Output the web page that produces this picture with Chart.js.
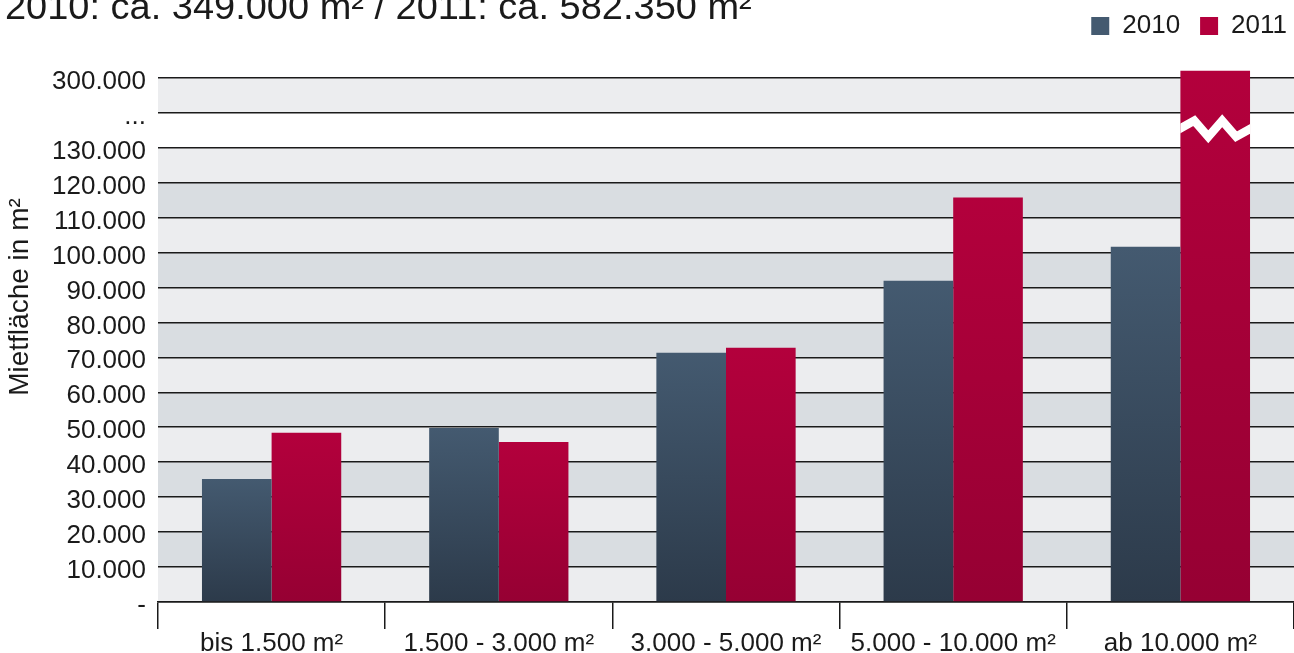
<!DOCTYPE html>
<html lang="de">
<head>
<meta charset="utf-8">
<title>Mietfläche nach Flächenklassen 2010 / 2011</title>
<script src="https://cdn.jsdelivr.net/npm/chart.js@4.4.1/dist/chart.umd.min.js"></script>
<style>
  html, body { margin: 0; padding: 0; background: #fff; }
  #wrap { position: relative; width: 1294px; height: 653px; }
</style>
</head>
<body>
<div id="wrap"><canvas id="chart"></canvas></div>
<script>
// Flächenklassen auf der x-Achse
const categories = ['bis 1.500 m²', '1.500 - 3.000 m²', '3.000 - 5.000 m²', '5.000 - 10.000 m²', 'ab 10.000 m²']

// Mietfläche in m²
const seriesNames = ['2010', '2011']
const values2010 = [35200, 49800, 71300, 91900, 101600]
const values2011 = [48400, 45800, 72700, 115700, 302000]

// y-Achse: eine Beschriftung pro Gitterschritt, "..." steht für den Achsenbruch
const yTickLabels = ['-', '10.000', '20.000', '30.000', '40.000', '50.000', '60.000',
  '70.000', '80.000', '90.000', '100.000', '110.000', '120.000', '130.000', '...', '300.000']

const TITLE = '2010: ca. 349.000 m² / 2011: ca. 582.350 m²'
const Y_TITLE = 'Mietfläche in m²'

const GRID_STEP = 10000
const BREAK_BELOW = 130000   // letzter Wert vor dem Bruch
const BREAK_RESUME = 300000  // erster Wert nach dem Bruch
const BREAK_SLOT = 150000    // Achsenposition, an der 300.000 steht
const BREAK_ROW = yTickLabels.indexOf('...') - 1

const BAND_LIGHT = '#ecedef'
const BAND_DARK = '#d9dde1'
const INK = '#1a1a1a'
const FONT = "'Liberation Sans', Arial, Helvetica, sans-serif"

// Werte oberhalb des Bruchs werden nach unten verschoben
function toAxis(v) {
  return v > BREAK_BELOW ? BREAK_SLOT + (v - BREAK_RESUME) : v
}

// Vertikaler Verlauf je Balken, von der Balkenoberkante bis zur Nulllinie
function barFill(top, bottom) {
  return (context) => {
    const { chart, parsed } = context
    if (!chart.chartArea || !parsed) {
      return top
    }
    const y = chart.scales.y
    const g = chart.ctx.createLinearGradient(0, y.getPixelForValue(parsed.y), 0, y.getPixelForValue(0))
    g.addColorStop(0, top)
    g.addColorStop(1, bottom)
    return g
  }
}

// Abwechselnde graue Bänder hinter dem Gitter, die Bruchzeile bleibt weiß
const bandsPlugin = {
  id: 'bands',
  beforeDraw(chart) {
    const { ctx, chartArea, scales: { y } } = chart
    ctx.save()
    for (let i = 0; i < yTickLabels.length - 1; i++) {
      if (i === BREAK_ROW) {
        continue
      }
      const top = y.getPixelForValue((i + 1) * GRID_STEP)
      const bottom = y.getPixelForValue(i * GRID_STEP)
      ctx.fillStyle = i % 2 ? BAND_DARK : BAND_LIGHT
      ctx.fillRect(chartArea.left, top, chartArea.right - chartArea.left, bottom - top)
    }
    ctx.restore()
  },
}

// Weißer Zickzack über Balken, die den Achsenbruch überspannen
const breakMarkPlugin = {
  id: 'breakMark',
  afterDatasetsDraw(chart) {
    const { ctx, scales: { y } } = chart
    const hi = y.getPixelForValue(137700)
    const lo = y.getPixelForValue(133100)
    const mid = (hi + lo) / 2
    const ys = [mid, hi, lo, hi, lo, mid]

    chart.data.datasets.forEach((ds, di) => {
      const meta = chart.getDatasetMeta(di)
      meta.data.forEach((bar, i) => {
        if (ds.source[i] <= BREAK_BELOW) {
          return
        }
        const left = bar.x - bar.width / 2
        ctx.save()
        ctx.beginPath()
        ctx.rect(left, bar.y, bar.width, bar.base - bar.y)
        ctx.clip()
        ctx.beginPath()
        ys.forEach((py, k) => {
          const px = left + (bar.width * k) / (ys.length - 1)
          if (k === 0) ctx.moveTo(px - 4, py + 2)
          else if (k === ys.length - 1) ctx.lineTo(px + 4, py - 2)
          else ctx.lineTo(px, py)
        })
        ctx.strokeStyle = '#ffffff'
        ctx.lineWidth = 8.5
        ctx.lineJoin = 'miter'
        ctx.stroke()
        ctx.restore()
      })
    })
  },
}

// Obertitel, oben angeschnitten wie im Original
const headlinePlugin = {
  id: 'headline',
  afterDraw(chart) {
    const { ctx } = chart
    ctx.save()
    ctx.translate(5, 18.7)
    ctx.scale(1.055, 1)
    ctx.font = '36px ' + FONT
    ctx.fillStyle = INK
    ctx.textAlign = 'left'
    ctx.textBaseline = 'alphabetic'
    ctx.fillText(TITLE, 0, 0)
    ctx.restore()
  },
}

// Gedrehter Titel der y-Achse
const yTitlePlugin = {
  id: 'yTitle',
  afterDraw(chart) {
    const { ctx } = chart
    ctx.save()
    ctx.translate(20, 297)
    ctx.rotate(-Math.PI / 2)
    ctx.font = '28px ' + FONT
    ctx.fillStyle = INK
    ctx.textAlign = 'center'
    ctx.textBaseline = 'middle'
    ctx.fillText(Y_TITLE, 0, 0)
    ctx.restore()
  },
}

// Legende an den rechten Rand und etwas nach oben rücken
const legendNudgePlugin = {
  id: 'legendNudge',
  afterLayout(chart) {
    const legend = chart.legend
    if (legend) {
      legend.left += 13
      legend.right += 13
      legend.top -= 8
      legend.bottom -= 8
    }
  },
}

Chart.defaults.font.family = FONT
Chart.defaults.color = INK

new Chart(document.getElementById('chart'), {
  type: 'bar',
  data: {
    labels: categories,
    datasets: [
      {
        label: seriesNames[0],
        source: values2010,
        data: values2010.map(toAxis),
        backgroundColor: barFill('#445a70', '#2c3a4a'),
        borderWidth: 0,
      },
      {
        label: seriesNames[1],
        source: values2011,
        data: values2011.map(toAxis),
        backgroundColor: barFill('#b3003c', '#960033'),
        borderWidth: 0,
      },
    ],
  },
  options: {
    responsive: true,
    maintainAspectRatio: false,
    devicePixelRatio: 1,
    animation: false,
    categoryPercentage: 0.613,
    barPercentage: 1,
    layout: {
      padding: { left: 4, right: 0, top: 1, bottom: 0 },
    },
    plugins: {
      title: { display: false },
      legend: {
        position: 'top',
        align: 'end',
        labels: {
          boxWidth: 18,
          boxHeight: 18,
          padding: 20,
          color: INK,
          font: { size: 26 },
        },
      },
      tooltip: { enabled: false },
    },
    scales: {
      x: {
        offset: true,
        border: { display: true, color: INK, width: 1.5 },
        grid: {
          offset: true,
          drawOnChartArea: false,
          drawTicks: true,
          tickLength: 27,
          color: INK,
          lineWidth: 1.5,
        },
        ticks: { font: { size: 26 }, color: INK, padding: -1, maxRotation: 0 },
        afterFit(scale) {
          scale.height = 51
        },
      },
      y: {
        min: 0,
        max: 155900,
        border: { display: false },
        grid: { color: INK, lineWidth: 1.5, drawTicks: false },
        ticks: {
          font: { size: 26 },
          color: INK,
          padding: 12,
          labelOffset: 4,
          callback: (value, index) => yTickLabels[index],
        },
        afterBuildTicks(scale) {
          scale.ticks = yTickLabels.map((_, i) => ({ value: i * GRID_STEP }))
        },
        afterFit(scale) {
          scale.width = 154
        },
      },
    },
  },
  plugins: [bandsPlugin, breakMarkPlugin, headlinePlugin, yTitlePlugin, legendNudgePlugin],
})
</script>
</body>
</html>
